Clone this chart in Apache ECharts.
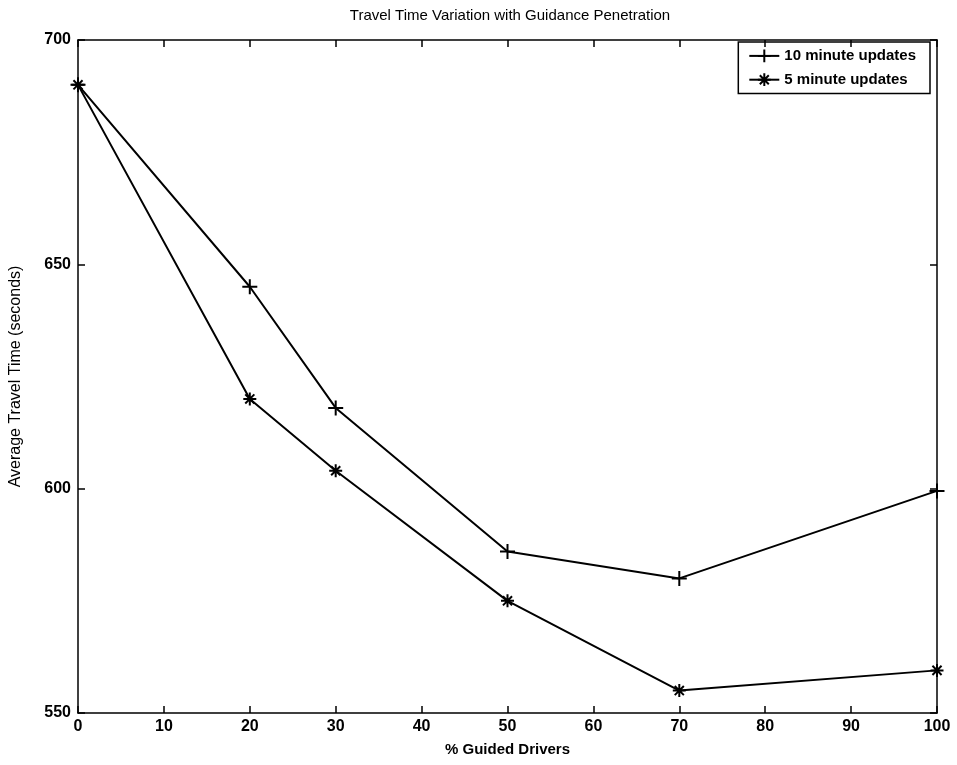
<!DOCTYPE html>
<html>
<head>
<meta charset="utf-8">
<script src="https://cdn.jsdelivr.net/npm/echarts@6/dist/echarts.min.js"></script>
<style>
  html, body { margin: 0; padding: 0; background: #fff; }
  #chart { width: 957px; height: 765px; }
</style>
</head>
<body>
<div id="chart"></div>
<script>
var guided = [0, 20, 30, 50, 70, 100];
var tenMin = [690, 645, 618, 586, 580, 599.5];
var fiveMin = [690, 620, 604, 575, 555, 559.5];
var xTicks = [0, 10, 20, 30, 40, 50, 60, 70, 80, 90, 100];
var yTicks = [550, 600, 650, 700];

var plusPath = 'path://M0,-1L0,1M-1,0L1,0';
var starPath = 'path://M0,-1L0,1M-1,0L1,0M-0.7,-0.7L0.7,0.7M-0.7,0.7L0.7,-0.7';

function pairs(xs, ys) {
  var out = [];
  for (var i = 0; i < xs.length; i++) {
    out.push([xs[i], ys[i]]);
  }
  return out;
}

var font = 'Liberation Sans, Arial, sans-serif';

function boxAxis(pos, isX, showLabel) {
  return {
    type: 'value',
    position: pos,
    min: isX ? xTicks[0] : yTicks[0],
    max: isX ? xTicks[xTicks.length - 1] : yTicks[yTicks.length - 1],
    interval: isX ? 10 : 50,
    axisLine: { show: true, onZero: false, lineStyle: { color: '#000', width: 1.5 } },
    axisTick: { show: true, inside: true, length: 7, lineStyle: { color: '#000', width: 1.5 } },
    axisLabel: {
      show: showLabel, color: '#000', fontFamily: font, fontWeight: 'bold', fontSize: 16,
      margin: isX ? 6 : 7
    },
    splitLine: { show: false }
  };
}

var chart = echarts.init(document.getElementById('chart'));

var xBottom = boxAxis('bottom', true, true);
xBottom.name = '% Guided Drivers';
xBottom.nameLocation = 'middle';
xBottom.nameGap = 29;
xBottom.nameTextStyle = { color: '#000', fontFamily: font, fontWeight: 'bold', fontSize: 15 };

var yLeft = boxAxis('left', false, true);
yLeft.name = 'Average Travel Time (seconds)';
yLeft.nameLocation = 'middle';
yLeft.nameGap = 54;
yLeft.nameTextStyle = { color: '#000', fontFamily: font, fontSize: 16 };

chart.setOption({
  animation: false,
  backgroundColor: '#fff',
  title: {
    text: 'Travel Time Variation with Guidance Penetration',
    left: 505, top: 3, textAlign: 'center',
    textStyle: { color: '#000', fontFamily: font, fontWeight: 'normal', fontSize: 15 }
  },
  grid: { left: 77, right: 20, top: 40, bottom: 52 },
  legend: {
    right: 27, top: 42,
    orient: 'vertical',
    itemWidth: 30, itemHeight: 16, itemGap: 6,
    padding: [5, 14, 5, 10],
    borderColor: '#000', borderWidth: 1.5,
    textStyle: { color: '#000', fontFamily: font, fontWeight: 'bold', fontSize: 15 },
    data: ['10 minute updates', '5 minute updates']
  },
  xAxis: [xBottom, boxAxis('top', true, false)],
  yAxis: [yLeft, boxAxis('right', false, false)],
  series: [
    {
      name: '10 minute updates',
      type: 'line',
      data: pairs(guided, tenMin),
      symbol: plusPath,
      symbolSize: 15,
      lineStyle: { color: '#000', width: 2 },
      itemStyle: { color: 'none', borderColor: '#000', borderWidth: 2 }
    },
    {
      name: '5 minute updates',
      type: 'line',
      data: pairs(guided, fiveMin),
      symbol: starPath,
      symbolSize: 13,
      lineStyle: { color: '#000', width: 2 },
      itemStyle: { color: 'none', borderColor: '#000', borderWidth: 2 }
    }
  ]
});
</script>
</body>
</html>
